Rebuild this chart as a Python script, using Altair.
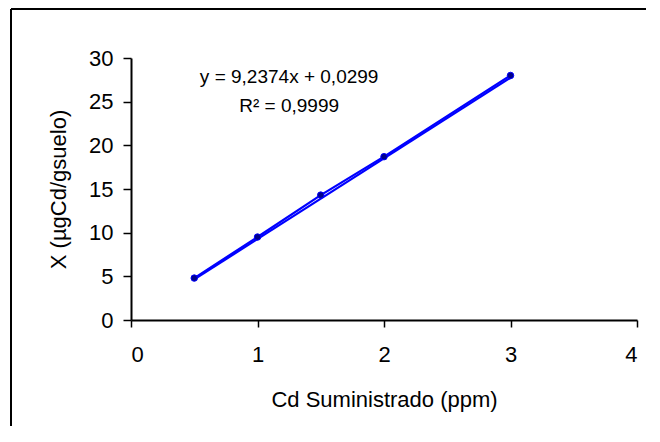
import altair as alt
import pandas as pd

# Data
cd_ppm = [0.5, 1.0, 1.5, 2.0, 3.0]
x_ug = [4.8, 9.5, 14.3, 18.7, 28.0]

trend_x = [0.5, 3.0]
trend_y = [4.65, 27.74]

x_ticks = [0, 1, 2, 3, 4]
y_ticks = [0, 5, 10, 15, 20, 25, 30]

ann_text = ["y = 9,2374x + 0,0299", "R² = 0,9999"]
ann_x = [1.25, 1.25]
ann_y = [27.8, 24.5]

FONT = "Arial, Liberation Sans, sans-serif"
BLUE = "#0000FF"

pts = pd.DataFrame({"x": cd_ppm, "y": x_ug})
trend = pd.DataFrame({"x": trend_x, "y": trend_y})
ann = pd.DataFrame({"x": ann_x, "y": ann_y, "t": ann_text})

xscale = alt.Scale(domain=[0, 4], nice=False, zero=True)
yscale = alt.Scale(domain=[0, 30], nice=False, zero=True)

xenc = alt.X("x:Q", scale=xscale,
             axis=alt.Axis(values=x_ticks, format="d", title="Cd Suministrado (ppm)",
                           grid=False, tickSize=7, labelPadding=17, titlePadding=24))
yenc = alt.Y("y:Q", scale=yscale,
             axis=alt.Axis(values=y_ticks, format="d", title="X (µgCd/gsuelo)",
                           grid=False, tickSize=8, labelPadding=10, titlePadding=18))

line = alt.Chart(pts).mark_line(color=BLUE, strokeWidth=2.2).encode(x=xenc, y=yenc)
tline = alt.Chart(trend).mark_line(color=BLUE, strokeWidth=2.2).encode(x="x:Q", y="y:Q")
points = alt.Chart(pts).mark_point(filled=True, shape="circle", size=42, fill="#00008B",
                                   stroke=BLUE, strokeWidth=1, opacity=1).encode(x="x:Q", y="y:Q")
text = alt.Chart(ann).mark_text(font=FONT, fontSize=19, color="black").encode(
    x="x:Q", y="y:Q", text="t:N")

frame_df = pd.DataFrame({"a": [0]})
top_rule = alt.Chart(frame_df).mark_rule(color="black", strokeWidth=2).encode(
    x=alt.value(-120), x2=alt.value(515), y=alt.value(-49))
left_rule = alt.Chart(frame_df).mark_rule(color="black", strokeWidth=2).encode(
    x=alt.value(-120), y=alt.value(-49), y2=alt.value(368))

chart = alt.layer(line, tline, points, text, top_rule, left_rule).properties(
    width=506, height=262,
    padding={"left": 2, "top": 0, "right": 0, "bottom": 0},
).configure_view(stroke=None).configure_axis(
    labelFont=FONT, titleFont=FONT, labelFontSize=22, titleFontSize=22,
    labelColor="black", titleColor="black", titleFontWeight="normal",
    domainColor="black", tickColor="black", domainWidth=2, tickWidth=1.5,
)

chart.save("out.html", embed_options={"renderer": "svg", "actions": False})
